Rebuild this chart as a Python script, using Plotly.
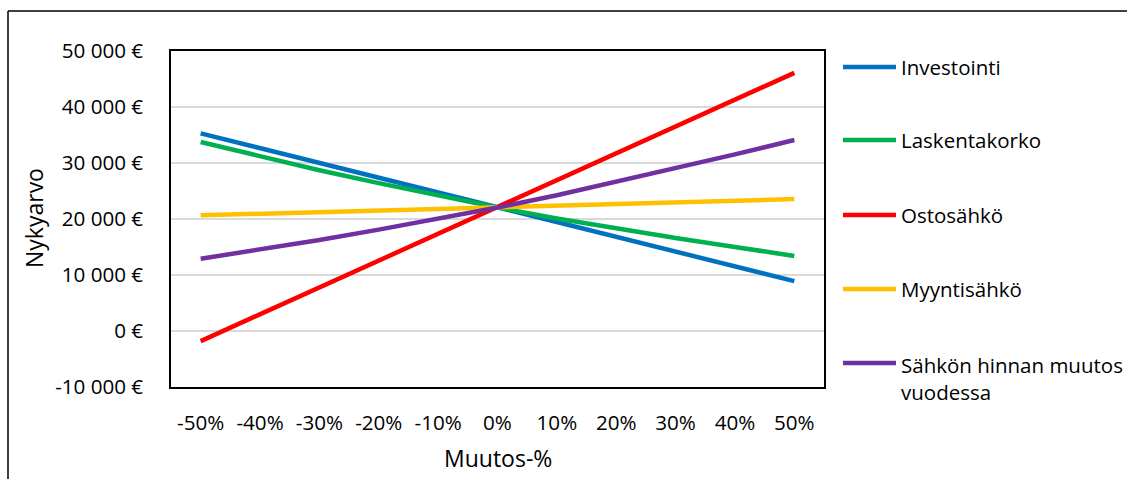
import plotly.graph_objects as go

# Sensitivity analysis: net present value vs. change of each input
categories = ["-50%", "-40%", "-30%", "-20%", "-10%", "0%", "10%", "20%", "30%", "40%", "50%"]

investointi = [35300, 32660, 30020, 27380, 24740, 22100, 19460, 16820, 14180, 11540, 8900]
laskentakorko = [33750, 31200, 28700, 26400, 24150, 22050, 20100, 18300, 16600, 15000, 13400]
ostosahko = [-1800, 3000, 7800, 12600, 17400, 22100, 26900, 31700, 36500, 41300, 46100]
myyntisahko = [20650, 20940, 21230, 21520, 21810, 22100, 22390, 22680, 22970, 23260, 23550]
sahkon_hinta = [12900, 14550, 16250, 18100, 20000, 22050, 24250, 26650, 29100, 31550, 34100]

series_names = ["Investointi", "Laskentakorko", "Ostosähkö", "Myyntisähkö",
                "Sähkön hinnan muutos<br>vuodessa"]
series_values = [investointi, laskentakorko, ostosahko, myyntisahko, sahkon_hinta]
series_colors = ["#0070C0", "#00B050", "#FF0000", "#FFC000", "#7030A0"]

y_ticks = [-10000, 0, 10000, 20000, 30000, 40000, 50000]
y_tick_labels = ["-10 000 €", "0 €", "10 000 €", "20 000 €", "30 000 €", "40 000 €", "50 000 €"]

FONT = "Open Sans"
FS = 20.6
FS_LEGEND = 20.5
FS_TITLE = 23
W, H = 1127, 479
L, R, T, B = 171, 824, 51, 387


def px_x(px):
    return (px - L) / (R - L)


def px_y(py):
    return (B - py) / (B - T)


fig = go.Figure()
for name, vals, col in zip(series_names, series_values, series_colors):
    fig.add_trace(go.Scatter(
        x=categories, y=vals, mode="lines", name=name,
        line=dict(color=col, width=4.5), showlegend=False,
    ))

# Hand-drawn legend to the right of the plot area
legend_y = [67, 140, 215, 289, 363]
shapes = []
annotations = []
for name, col, ly in zip(series_names, series_colors, legend_y):
    shapes.append(dict(type="line", xref="paper", yref="paper",
                       x0=px_x(843), x1=px_x(896), y0=px_y(ly), y1=px_y(ly),
                       line=dict(color=col, width=4.5)))
    multi = "<br>" in name
    annotations.append(dict(
        text=name, xref="paper", yref="paper", showarrow=False,
        x=px_x(899), y=px_y(ly - 14) if multi else px_y(ly),
        xanchor="left", yanchor="top" if multi else "middle", align="left",
        font=dict(family=FONT, size=FS_LEGEND, color="#000000"),
    ))

# Chart frame (top and left edges visible)
shapes.append(dict(type="line", xref="paper", yref="paper",
                   x0=px_x(8), x1=px_x(1130), y0=px_y(11), y1=px_y(11),
                   line=dict(color="#000000", width=1.5)))
shapes.append(dict(type="line", xref="paper", yref="paper",
                   x0=px_x(8), x1=px_x(8), y0=px_y(11), y1=px_y(482),
                   line=dict(color="#000000", width=1.5)))

annotations.append(dict(text="Nykyarvo", xref="paper", yref="paper", showarrow=False,
                        x=px_x(34), y=px_y(218), textangle=-90,
                        xanchor="center", yanchor="middle",
                        font=dict(family=FONT, size=FS_TITLE, color="#000000")))
annotations.append(dict(text="Muutos-%", xref="paper", yref="paper", showarrow=False,
                        x=px_x(498), y=px_y(458),
                        xanchor="center", yanchor="middle",
                        font=dict(family=FONT, size=FS_TITLE, color="#000000")))

fig.update_layout(
    width=W, height=H,
    margin=dict(l=L, r=W - R, t=T, b=H - B),
    paper_bgcolor="white", plot_bgcolor="white",
    font=dict(family=FONT, size=FS, color="#000000"),
    shapes=shapes, annotations=annotations,
    xaxis=dict(type="category", range=[-0.5, len(categories) - 0.5],
               showgrid=False, showline=True, mirror=True,
               linecolor="#000000", linewidth=1.5, ticks="", ticklen=0,
               tickfont=dict(family=FONT, size=FS), zeroline=False),
    yaxis=dict(range=[-10000, 50000], tickvals=y_ticks, ticktext=y_tick_labels,
               showgrid=True, gridcolor="#D9D9D9", gridwidth=1.5,
               zeroline=True, zerolinecolor="#D9D9D9", zerolinewidth=1.5,
               showline=True, mirror=True, linecolor="#000000", linewidth=1.5,
               ticks="", tickfont=dict(family=FONT, size=FS)),
)
fig.update_xaxes(ticklabelstandoff=17)
fig.update_yaxes(ticklabelstandoff=22)

fig.write_html("out.html")
